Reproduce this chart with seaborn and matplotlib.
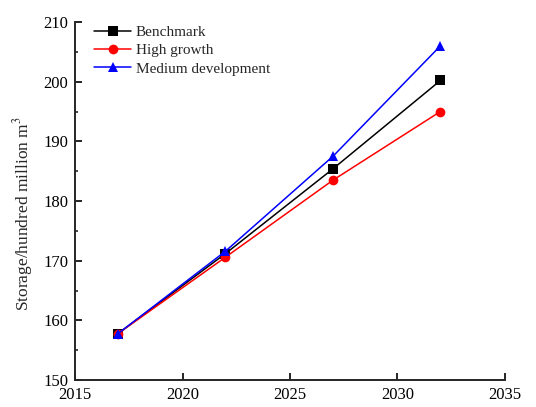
import pandas as pd
import matplotlib
matplotlib.use('Agg')
import matplotlib.pyplot as plt
import seaborn as sns
from matplotlib.ticker import MultipleLocator

years = [2017, 2022, 2027, 2032]
benchmark = [157.8, 171.2, 185.4, 200.2]
high_growth = [157.8, 170.6, 183.5, 195.0]
medium_dev = [157.8, 171.6, 187.5, 206.0]

series_names = ['Benchmark', 'High growth', 'Medium development']

df = pd.DataFrame({
    'year': years * 3,
    'value': benchmark + high_growth + medium_dev,
    'scenario': [series_names[0]] * 4 + [series_names[1]] * 4 + [series_names[2]] * 4,
})

sns.set_style('ticks')
plt.rcParams['font.family'] = ['Liberation Serif', 'DejaVu Serif']
plt.rcParams['mathtext.fontset'] = 'stix'

fig, ax = plt.subplots(figsize=(5.36, 4.07), dpi=100)
fig.subplots_adjust(left=0.140, right=0.942, top=0.946, bottom=0.066)

sns.lineplot(data=df, x='year', y='value', hue='scenario', style='scenario',
             palette=['black', 'red', 'blue'], markers=['s', 'o', '^'],
             dashes=False, markersize=7, markeredgewidth=0, linewidth=1.1, ax=ax)

ax.set_xlim(2015, 2035)
ax.set_ylim(150, 210)
ax.xaxis.set_major_locator(MultipleLocator(5))
ax.yaxis.set_major_locator(MultipleLocator(10))
ax.yaxis.set_minor_locator(MultipleLocator(5))
ax.tick_params(axis='both', which='major', direction='in', length=5, width=1.2,
               labelsize=12, colors='black')
ax.tick_params(axis='x', which='major', pad=5)
ax.tick_params(axis='y', which='major', pad=5)
ax.tick_params(axis='y', which='minor', direction='in', length=2.5, width=1.2)
for s in ['left', 'bottom']:
    ax.spines[s].set_linewidth(1.4)
sns.despine(ax=ax)

ax.set_xlabel('')
ax.set_ylabel('Storage/hundred million m$^3$', fontsize=12.5)
ax.yaxis.set_label_coords(-0.092, 0.465)

ax.legend(loc='upper left', bbox_to_anchor=(0.02, 1.02), frameon=False, fontsize=11,
          handlelength=2.4, labelspacing=0.3, borderaxespad=0.3, handletextpad=0.3)

fig.savefig('out.png', dpi=100)
